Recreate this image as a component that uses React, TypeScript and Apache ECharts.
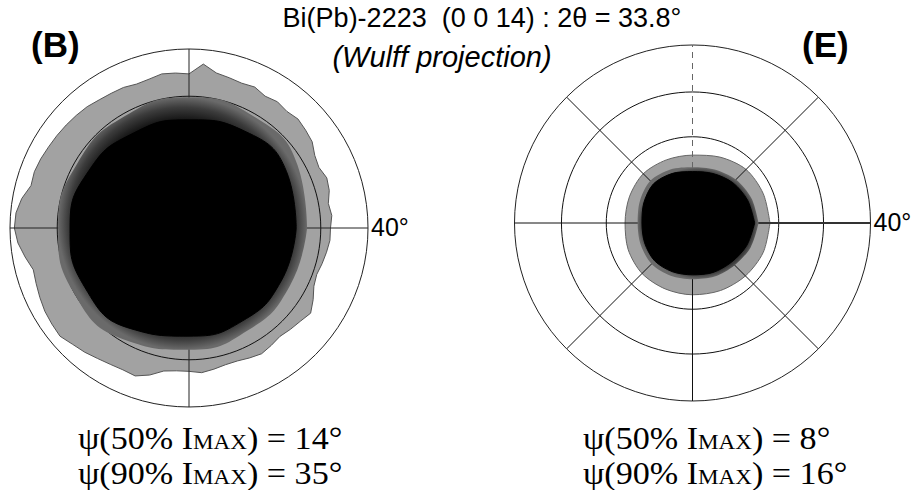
import React, { useEffect, useRef } from "react";
import * as echarts from "echarts";

// ---------- data (ψ in degrees, angles in degrees counter-clockwise from east) ----------
const RIM_PSI = 40;
const GRID_PSI_B = [10, 20, 30];
const GRID_PSI_E = [10, 20, 30];
const SPOKES_B = [0, 90, 180, 270];
const SPOKES_E = [0, 45, 135, 180, 225, 270, 315];
const SPOKES_E_DASHED = [90];

const B_ANGLES = [
  0, 5, 10, 15, 20, 25, 30, 35, 40, 45, 50, 55, 60, 65, 70, 75, 80, 85, 90, 95, 100, 105, 110, 115,
  120, 125, 130, 135, 140, 145, 150, 155, 160, 165, 170, 175, 180, 185, 190, 195, 200, 205, 210, 215,
  220, 225, 230, 235, 240, 245, 250, 255, 260, 265, 270, 275, 280, 285, 290, 295, 300, 305, 310, 315,
  320, 325, 330, 335, 340, 345, 350, 355,
];
// outer edge of the grey (≈10% I max) region of sample B
const B_OUTER = [
  32.1, 32.5, 32.1, 32.9, 33.2, 32.5, 32.9, 34.0, 34.4, 34.8, 34.4, 34.8, 34.4, 35.1, 34.8, 35.1, 35.5, 37.0,
  34.8, 35.1, 35.3, 34.8, 34.6, 35.0, 35.1, 35.3, 35.7, 35.9, 36.1, 36.3, 36.5, 36.8, 37.0, 36.8, 38.1, 38.9,
  39.1, 38.5, 37.4, 36.3, 36.6, 37.0, 37.4, 37.6, 37.8, 37.0, 36.5, 35.9, 35.5, 35.3, 35.5, 34.4, 32.9, 32.5,
  32.5, 32.9, 32.5, 32.1, 32.1, 32.5, 32.9, 32.5, 32.1, 32.5, 32.9, 33.6, 32.5, 31.3, 30.9, 31.3, 31.7, 32.1,
];
const B_CORE_ANGLES = [0, 30, 60, 90, 120, 150, 180, 210, 240, 270, 300, 330];
const B_MID = [27.0, 28.6, 29.4, 29.8, 29.4, 29.4, 29.8, 30.1, 29.4, 27.8, 27.0, 26.6];
const B_CORE = [24.6, 25.8, 25.6, 24.8, 25.2, 26.4, 27.2, 27.4, 26.6, 24.8, 24.6, 24.4];

const E_ANGLES = [0, 22.5, 45, 67.5, 90, 112.5, 135, 157.5, 180, 202.5, 225, 247.5, 270, 292.5, 315, 337.5];
const E_OUTER = [18.0, 17.8, 17.6, 16.6, 15.8, 15.9, 16.2, 15.9, 15.7, 16.2, 16.6, 16.6, 16.7, 17.0, 17.4, 17.8];
const E_MID = [15.4, 14.9, 14.3, 13.5, 13.0, 13.5, 13.9, 13.3, 12.8, 13.1, 13.5, 13.3, 13.1, 13.5, 13.9, 14.7];
const E_CORE = [14.5, 13.9, 13.3, 12.5, 12.0, 12.5, 12.9, 12.3, 11.8, 12.1, 12.5, 12.3, 12.1, 12.5, 12.9, 13.7];

const TITLE = "Bi(Pb)-2223  (0 0 14) : 2θ = 33.8°";
const SUBTITLE = "(Wulff projection)";
const PANEL_LABELS = ["(B)", "(E)"];
const RIM_LABEL = "40°";
const PSI50 = ["14°", "8°"];
const PSI90 = ["35°", "16°"];

// ---------- helpers ----------
const wulff = (psi: number) => Math.tan(((psi / 2) * Math.PI) / 180);
const CIRCLE_STEPS: number[] = [];
for (let a = 0; a <= 360; a += 3) CIRCLE_STEPS.push(a);

const ring = (angles: number[], psis: number[]) => {
  const d = angles.map((a, i) => [wulff(psis[i]), a]);
  d.push([wulff(psis[0]), 360]);
  return d;
};

const blob = (idx: number, data: number[][], color: any, edge: string, smooth: number | boolean, z: number) => ({
  type: "line",
  coordinateSystem: "polar",
  polarIndex: idx,
  data,
  symbol: "none",
  smooth,
  silent: true,
  z,
  lineStyle: { color: edge, width: 1 },
  areaStyle: { color, opacity: 1 },
});

const circleSeries = (idx: number, psi: number) => ({
  type: "line",
  coordinateSystem: "polar",
  polarIndex: idx,
  data: CIRCLE_STEPS.map((a) => [wulff(psi), a]),
  symbol: "none",
  silent: true,
  z: 2,
  lineStyle: { color: "#111", width: 1 },
});

const spokeSeries = (idx: number, angle: number, style: any) => ({
  type: "line",
  coordinateSystem: "polar",
  polarIndex: idx,
  data: [
    [0, angle],
    [wulff(RIM_PSI), angle],
  ],
  symbol: "none",
  silent: true,
  z: 2,
  lineStyle: style,
});

const CENTERS = [
  [189, 228],
  [692.5, 223],
];
const RADII = [179, 178];

const fadeGradient = {
  type: "radial",
  x: 0.5,
  y: 0.5,
  r: 0.5,
  colorStops: [
    { offset: 0, color: "#000" },
    { offset: 0.82, color: "#151515" },
    { offset: 0.92, color: "#3c3c3c" },
    { offset: 1, color: "#6a6a6a" },
  ],
};

export default function App() {
  const ref = useRef<HTMLDivElement>(null);
  useEffect(() => {
    document.body.style.margin = "0";
    const chart = echarts.init(ref.current!, undefined, { renderer: "svg" });
    const rMax = wulff(RIM_PSI);

    const series: any[] = [];
    // sample B
    series.push(blob(0, ring(B_ANGLES, B_OUTER), "#a2a2a2", "#555", false, 1));
    GRID_PSI_B.forEach((p) => series.push(circleSeries(0, p)));
    SPOKES_B.forEach((a) => series.push(spokeSeries(0, a, { color: "#222", width: 1 })));
    series.push(blob(0, ring(B_CORE_ANGLES, B_MID), fadeGradient, "rgba(0,0,0,0)", 0.5, 3));
    series.push(blob(0, ring(B_CORE_ANGLES, B_CORE), "#000", "#000", 0.5, 4));
    // sample E
    series.push(blob(1, ring(E_ANGLES, E_OUTER), "#a2a2a2", "#666", 0.3, 1));
    GRID_PSI_E.forEach((p) => series.push(circleSeries(1, p)));
    SPOKES_E.forEach((a) =>
      series.push(spokeSeries(1, a, { color: a === 0 ? "#333" : "#111", width: a === 0 ? 2 : 1 }))
    );
    SPOKES_E_DASHED.forEach((a) =>
      series.push(spokeSeries(1, a, { color: "#666", width: 1, type: [6, 5] }))
    );
    series.push(blob(1, ring(E_ANGLES, E_MID), fadeGradient, "rgba(0,0,0,0)", 0.3, 3));
    series.push(blob(1, ring(E_ANGLES, E_CORE), "#000", "#000", 0.3, 4));

    const angleAxis = (i: number) => ({
      polarIndex: i,
      type: "value",
      min: 0,
      max: 360,
      startAngle: 0,
      clockwise: false,
      axisLine: { show: true, lineStyle: { color: "#222", width: 1 } },
      axisTick: { show: false },
      axisLabel: { show: false },
      splitLine: { show: false },
    });
    const radiusAxis = (i: number) => ({
      polarIndex: i,
      type: "value",
      min: 0,
      max: rMax,
      axisLine: { show: false },
      axisTick: { show: false },
      axisLabel: { show: false },
      splitLine: { show: false },
    });

    const sans = "Arial, 'Liberation Sans', Helvetica, sans-serif";
    const serif = "'Times New Roman', 'Liberation Serif', Times, serif";
    const psiText = (pct: string, val: string) => `{n|ψ(${pct}% I}{s|MAX}{n|) = ${val}}`;
    const rich = {
      n: { fontFamily: serif, fontSize: 31, lineHeight: 34, fill: "#000", verticalAlign: "bottom" },
      s: {
        fontFamily: serif,
        fontSize: 21,
        lineHeight: 34,
        fill: "#000",
        verticalAlign: "bottom",
        padding: [0, 0, 2, 0],
      },
    };

    const texts: any[] = [
      {
        type: "text",
        x: 482,
        y: 18,
        style: { text: TITLE, font: `27px ${sans}`, fill: "#000", align: "center", verticalAlign: "middle" },
      },
      {
        type: "text",
        x: 442,
        y: 57,
        style: {
          text: SUBTITLE,
          font: `italic 29px ${sans}`,
          fill: "#000",
          align: "center",
          verticalAlign: "middle",
        },
      },
      {
        type: "text",
        x: 31,
        y: 44,
        style: { text: PANEL_LABELS[0], font: `bold 35px ${sans}`, fill: "#000", align: "left", verticalAlign: "middle" },
      },
      {
        type: "text",
        x: 802,
        y: 44,
        style: { text: PANEL_LABELS[1], font: `bold 35px ${sans}`, fill: "#000", align: "left", verticalAlign: "middle" },
      },
    ];
    CENTERS.forEach((c, i) => {
      texts.push({
        type: "text",
        x: c[0] + RADII[i] + 3,
        y: c[1] - 1,
        style: { text: RIM_LABEL, font: `25px ${sans}`, fill: "#000", align: "left", verticalAlign: "middle" },
      });
    });
    const textX = [78, 583];
    textX.forEach((x, i) => {
      texts.push({
        type: "text",
        x,
        y: 454,
        scaleX: 1.1,
        style: { text: psiText("50", PSI50[i]), rich, align: "left", verticalAlign: "bottom" },
      });
      texts.push({
        type: "text",
        x,
        y: 489,
        scaleX: 1.1,
        style: { text: psiText("90", PSI90[i]), rich, align: "left", verticalAlign: "bottom" },
      });
    });

    chart.setOption({
      animation: false,
      backgroundColor: "#fff",
      polar: CENTERS.map((c, i) => ({ center: c, radius: RADII[i] })),
      angleAxis: [angleAxis(0), angleAxis(1)],
      radiusAxis: [radiusAxis(0), radiusAxis(1)],
      series,
      graphic: texts,
    });
    return () => chart.dispose();
  }, []);
  return <div ref={ref} style={{ width: 912, height: 490 }} />;
}
